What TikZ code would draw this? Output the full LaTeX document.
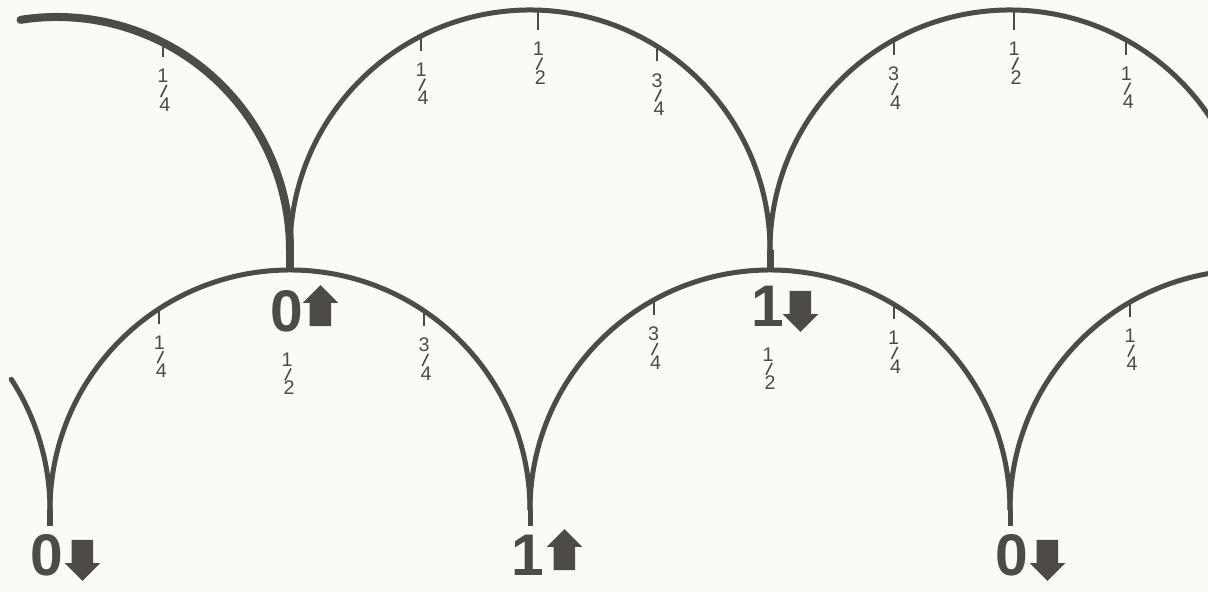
\documentclass[tikz,border=0pt]{standalone}
\usepackage{fontspec}
\setmainfont{Liberation Sans}
\newfontfamily\stencil{Liberation Sans}
\usetikzlibrary{positioning,calc,shapes.arrows}
\definecolor{ink}{RGB}{78,74,70}
\definecolor{paper}{RGB}{251,250,245}
\tikzset{
  bend line/.style={draw=ink, line width=0.05cm},
  tick/.style={draw=ink, line width=0.02cm},
  slash/.style={draw=ink, line width=0.016cm},
  num/.style={text=ink, inner sep=0pt, font=\fontsize{5.6}{6}\selectfont},
  big/.style={text=ink, inner sep=0pt, font=\stencil\bfseries\fontsize{16.7}{17}\selectfont},
  blk/.style={single arrow, fill=ink, draw=none, inner sep=0.1cm, minimum height=0.41cm,
    single arrow head extend=0.07cm, single arrow head indent=0cm}
}
\begin{document}
\begin{tikzpicture}[x=0.01cm,y=0.01cm]
  \fill[paper] (0,0) rectangle (1208,592);
  \useasboundingbox (0,0) rectangle (1208,592);
  \clip (0,0) rectangle (1208,592);
  \coordinate (ta) at (57,342);
  \coordinate (tb) at (530,342);
  \coordinate (tc) at (1010,342);
  \coordinate (ba) at (-190,82);
  \coordinate (bb) at (290,82);
  \coordinate (bc) at (770,82);
  \coordinate (bd) at (1250,82);
  \coordinate (cusp1) at (290,342);
  \coordinate (cusp2) at (770,342);
  \coordinate (cusp3) at (50,82);
  \coordinate (cusp4) at (530,82);
  \coordinate (cusp5) at (1010,82);

  \draw[bend line, line width=0.08cm, line cap=round] (cusp1) arc (0:99:233);
  \draw[bend line] (cusp1) arc (180:0:240);
  \draw[bend line] (cusp2) arc (180:30:240);
  \draw[bend line, line cap=round] (cusp3) arc (0:33:240);
  \draw[bend line] (cusp3) arc (180:0:240);
  \draw[bend line] (cusp4) arc (180:0:240);
  \draw[bend line] (cusp5) arc (180:95:240);
  \draw[bend line, line width=0.07cm] (cusp1) -- ++(0,-20);
  \draw[bend line, line width=0.07cm] (cusp2) -- ++(0,-20);
  \draw[bend line] (cusp3) -- ++(0,-16);
  \draw[bend line] (cusp4) -- ++(0,-16);
  \draw[bend line] (cusp5) -- ++(0,-16);

  \foreach \c/\a/\r/\l/\n/\d [count=\i] in {ta/63/233/15/1/4, tb/117/240/15/1/4, tb/88/240/20/1/2,
      tb/58/240/15/3/4, tc/119/240/15/3/4, tc/89/240/20/1/2, tc/61/240/15/1/4,
      bb/123/240/15/1/4, bb/56/240/15/3/4, bc/119/240/15/3/4, bc/59/240/15/1/4, bd/120/240/15/1/4}
  {
    \draw[tick] ($(\c)+(\a:\r)$) -- ++(0,-\l) node[num, below=0.11cm] (n\i) {\n};
    \node[num, below=0.13cm of n\i, xshift=0.02cm] (d\i) {\d};
    \draw[slash] ($(d\i.north)+(-4,0)$) -- ($(n\i.south)+(4,-1)$);
  }

  \node[big] (z1) at (287,281) {0};
  \node[blk, shape border rotate=90, right=0.05cm of z1] (u1) {};
  \node[big] (o1) at (768,286) {1};
  \node[blk, shape border rotate=270, right=0.04cm of o1] (d1) {};
  \node[big] (z2) at (47,37) {0};
  \node[blk, shape border rotate=270, right=0.07cm of z2] (d2) {};
  \node[big] (o2) at (528,37) {1};
  \node[blk, shape border rotate=90, right=0.08cm of o2] (u2) {};
  \node[big] (z3) at (1012,37) {0};
  \node[blk, shape border rotate=270, right=0.07cm of z3] (d3) {};

  \node[num, below=0.2cm of z1] (hn1) {1};
  \node[num, below=0.13cm of hn1, xshift=0.02cm] (hd1) {2};
  \draw[slash] ($(hd1.north)+(-4,0)$) -- ($(hn1.south)+(4,-1)$);
  \node[num, below=0.2cm of o1] (hn2) {1};
  \node[num, below=0.13cm of hn2, xshift=0.02cm] (hd2) {2};
  \draw[slash] ($(hd2.north)+(-4,0)$) -- ($(hn2.south)+(4,-1)$);
\end{tikzpicture}
\end{document}
